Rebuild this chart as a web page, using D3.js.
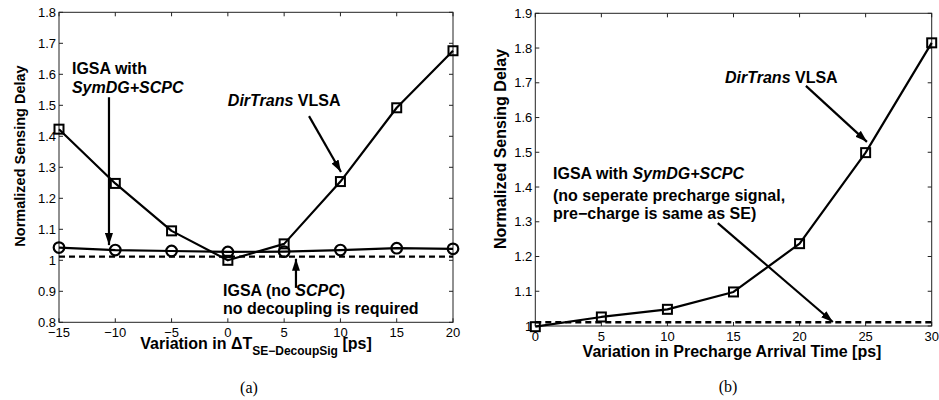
<!DOCTYPE html>
<html><head><meta charset="utf-8">
<script src="https://cdn.jsdelivr.net/npm/d3@7"></script>
<style>body{margin:0;background:#fff}svg{display:block}</style>
</head><body>
<svg id="c" width="939" height="400"></svg>
<script>
// ---------- data ----------
const xA = [-15, -10, -5, 0, 5, 10, 15, 20];
const dirTransA = [1.423, 1.248, 1.095, 1.0, 1.053, 1.254, 1.492, 1.676];
const igsaA = [1.041, 1.033, 1.030, 1.027, 1.028, 1.033, 1.039, 1.037];
const baselineA = 1.012;
const xTicksA = [-15, -10, -5, 0, 5, 10, 15, 20];
const yTicksA = [0.8, 0.9, 1.0, 1.1, 1.2, 1.3, 1.4, 1.5, 1.6, 1.7, 1.8];

const xB = [0, 5, 10, 15, 20, 25, 30];
const dirTransB = [0.998, 1.026, 1.048, 1.098, 1.237, 1.499, 1.815];
const baselineB = 1.011;
const xTicksB = [0, 5, 10, 15, 20, 25, 30];
const yTicksB = [1.0, 1.1, 1.2, 1.3, 1.4, 1.5, 1.6, 1.7, 1.8, 1.9];

const yLabel = "Normalized Sensing Delay";
const xLabelB = "Variation in Precharge Arrival Time [ps]";

// ---------- drawing ----------
const svg = d3.select("#c");
const defs = svg.append("defs");
defs.append("marker").attr("id", "ah").attr("viewBox", "0 0 12 8")
  .attr("refX", 12).attr("refY", 4).attr("markerWidth", 12).attr("markerHeight", 8)
  .attr("markerUnits", "userSpaceOnUse").attr("orient", "auto")
  .append("path").attr("d", "M0,0 L12,4 L0,8 Z").attr("fill", "#000");

const fmt = v => { const s = d3.format(".1f")(v); return s === "1.0" ? "1" : s.replace("-", "\u2212"); };
const fmtX = v => String(v).replace("-", "\u2212");
const SANS = "Liberation Sans, Arial, sans-serif";

function panel(cfg) {
  const { x, y, xTicks, yTicks, box } = cfg;
  const g = svg.append("g");
  g.append("rect").attr("x", box[0]).attr("y", box[1])
    .attr("width", box[2] - box[0]).attr("height", box[3] - box[1])
    .attr("fill", "none").attr("stroke", "#222").attr("stroke-width", 1);
  const tl = 4;
  xTicks.forEach(t => {
    const px = x(t);
    g.append("line").attr("x1", px).attr("x2", px).attr("y1", box[3]).attr("y2", box[3] - tl).attr("stroke", "#222");
    g.append("line").attr("x1", px).attr("x2", px).attr("y1", box[1]).attr("y2", box[1] + tl).attr("stroke", "#222");
    g.append("text").attr("x", px).attr("y", box[3] + 15).attr("text-anchor", "middle")
      .attr("font-family", SANS).attr("font-size", 13).attr("fill", "#000")
      .text(fmtX(t));
  });
  yTicks.forEach(t => {
    const py = y(t);
    g.append("line").attr("x1", box[0]).attr("x2", box[0] + tl).attr("y1", py).attr("y2", py).attr("stroke", "#222");
    g.append("line").attr("x1", box[2]).attr("x2", box[2] - tl).attr("y1", py).attr("y2", py).attr("stroke", "#222");
    g.append("text").attr("x", box[0] - 3).attr("y", py + 4.5).attr("text-anchor", "end")
      .attr("font-family", SANS).attr("font-size", 13).attr("fill", "#000")
      .text(fmt(t));
  });
  g.append("text").attr("transform", `translate(${cfg.yLabelX},${cfg.yLabelY}) rotate(-90)`)
    .attr("text-anchor", "middle").attr("dominant-baseline", "central")
    .attr("font-family", SANS).attr("font-weight", "bold").attr("font-size", cfg.yLabelSize)
    .text(yLabel);
  return g;
}

function line(g, x, y, xs, ys) {
  g.append("path").datum(xs.map((d, i) => [d, ys[i]]))
    .attr("d", d3.line().x(d => x(d[0])).y(d => y(d[1])))
    .attr("fill", "none").attr("stroke", "#000").attr("stroke-width", 2.2).attr("stroke-linejoin", "round");
}
function squares(g, x, y, xs, ys) {
  g.selectAll(null).data(xs.map((d, i) => [d, ys[i]])).enter().append("rect")
    .attr("x", d => x(d[0]) - 4.5).attr("y", d => y(d[1]) - 4.5).attr("width", 9).attr("height", 9)
    .attr("fill", "none").attr("stroke", "#000").attr("stroke-width", 2);
}
function circles(g, x, y, xs, ys) {
  g.selectAll(null).data(xs.map((d, i) => [d, ys[i]])).enter().append("circle")
    .attr("cx", d => x(d[0])).attr("cy", d => y(d[1])).attr("r", 5.3)
    .attr("fill", "none").attr("stroke", "#000").attr("stroke-width", 2.2);
}
function dashed(g, x, y, x0, x1, v) {
  g.append("line").attr("x1", x(x0)).attr("x2", x(x1)).attr("y1", y(v)).attr("y2", y(v))
    .attr("stroke", "#000").attr("stroke-width", 2.4).attr("stroke-dasharray", "6,4");
}
function arrow(g, x, y, a) {
  g.append("line").attr("x1", x(a[0])).attr("y1", y(a[1])).attr("x2", x(a[2])).attr("y2", y(a[3]))
    .attr("stroke", "#000").attr("stroke-width", 2.2).attr("marker-end", "url(#ah)");
}
function label(g, x, y, pos, parts) {
  const t = g.append("text").attr("x", x(pos[0])).attr("y", y(pos[1])).attr("dominant-baseline", "central")
    .attr("font-family", SANS).attr("font-weight", "bold").attr("font-size", 16);
  parts.forEach(p => t.append("tspan").attr("font-style", p[1] ? "italic" : "normal").text(p[0]));
}

// ---- Panel (a) ----
const boxA = [59, 12.3, 453, 322.3];
const xa = d3.scaleLinear().domain([-15, 20]).range([boxA[0], boxA[2]]);
const ya = d3.scaleLinear().domain([0.8, 1.8]).range([boxA[3], boxA[1]]);
const gA = panel({ x: xa, y: ya, xTicks: xTicksA, yTicks: yTicksA, box: boxA, yLabelX: 20, yLabelY: 156, yLabelSize: 14.5 });
dashed(gA, xa, ya, -15, 20, baselineA);
line(gA, xa, ya, xA, dirTransA);
line(gA, xa, ya, xA, igsaA);
squares(gA, xa, ya, xA, dirTransA);
circles(gA, xa, ya, xA, igsaA);
arrow(gA, xa, ya, [-10.56, 1.526, -10.56, 1.049]);
arrow(gA, xa, ya, [7.21, 1.465, 10.05, 1.285]);
arrow(gA, xa, ya, [6.05, 0.911, 6.05, 1.005]);
label(gA, xa, ya, [-13.85, 1.62], [["IGSA with", false]]);
label(gA, xa, ya, [-13.85, 1.559], [["SymDG+SCPC", true]]);
label(gA, xa, ya, [0.0, 1.517], [["DirTrans", true], [" VLSA", false]]);
label(gA, xa, ya, [-0.43, 0.904], [["IGSA (no ", false], ["SCPC", true], [")", false]]);
label(gA, xa, ya, [-0.43, 0.846], [["no decoupling is required", false]]);
{
  const t = gA.append("text").attr("x", 256).attr("y", 349).attr("text-anchor", "middle")
    .attr("font-family", SANS).attr("font-weight", "bold").attr("font-size", 16);
  t.append("tspan").text("Variation in \u0394T");
  t.append("tspan").attr("font-size", 12).attr("dy", 6).text("SE\u2212DecoupSig");
  t.append("tspan").attr("dy", -6).text(" [ps]");
}
svg.append("text").attr("x", 249).attr("y", 393).attr("text-anchor", "middle")
  .attr("font-family", "Liberation Serif, Times New Roman, serif").attr("font-size", 16).text("(a)");

// ---- Panel (b) ----
const boxB = [535.3, 13.3, 931.7, 326];
const xb = d3.scaleLinear().domain([0, 30]).range([boxB[0], boxB[2]]);
const yb = d3.scaleLinear().domain([1.0, 1.9]).range([boxB[3], boxB[1]]);
const gB = panel({ x: xb, y: yb, xTicks: xTicksB, yTicks: yTicksB, box: boxB, yLabelX: 500.5, yLabelY: 149, yLabelSize: 16 });
dashed(gB, xb, yb, 0, 30, baselineB);
line(gB, xb, yb, xB, dirTransB);
squares(gB, xb, yb, xB, dirTransB);
arrow(gB, xb, yb, [20.48, 1.691, 25.1, 1.530]);
arrow(gB, xb, yb, [13.81, 1.296, 22.52, 1.0115]);
label(gB, xb, yb, [14.36, 1.717], [["DirTrans", true], [" VLSA", false]]);
label(gB, xb, yb, [1.34, 1.440], [["IGSA with ", false], ["SymDG+SCPC", true]]);
label(gB, xb, yb, [1.34, 1.377], [["(no seperate precharge signal,", false]]);
label(gB, xb, yb, [1.34, 1.325], [["pre\u2212charge is same as SE)", false]]);
gB.append("text").attr("x", 732).attr("y", 357).attr("text-anchor", "middle")
  .attr("font-family", SANS).attr("font-weight", "bold").attr("font-size", 16)
  .text(xLabelB);
svg.append("text").attr("x", 728).attr("y", 392).attr("text-anchor", "middle")
  .attr("font-family", "Liberation Serif, Times New Roman, serif").attr("font-size", 16).text("(b)");
</script>
</body></html>
